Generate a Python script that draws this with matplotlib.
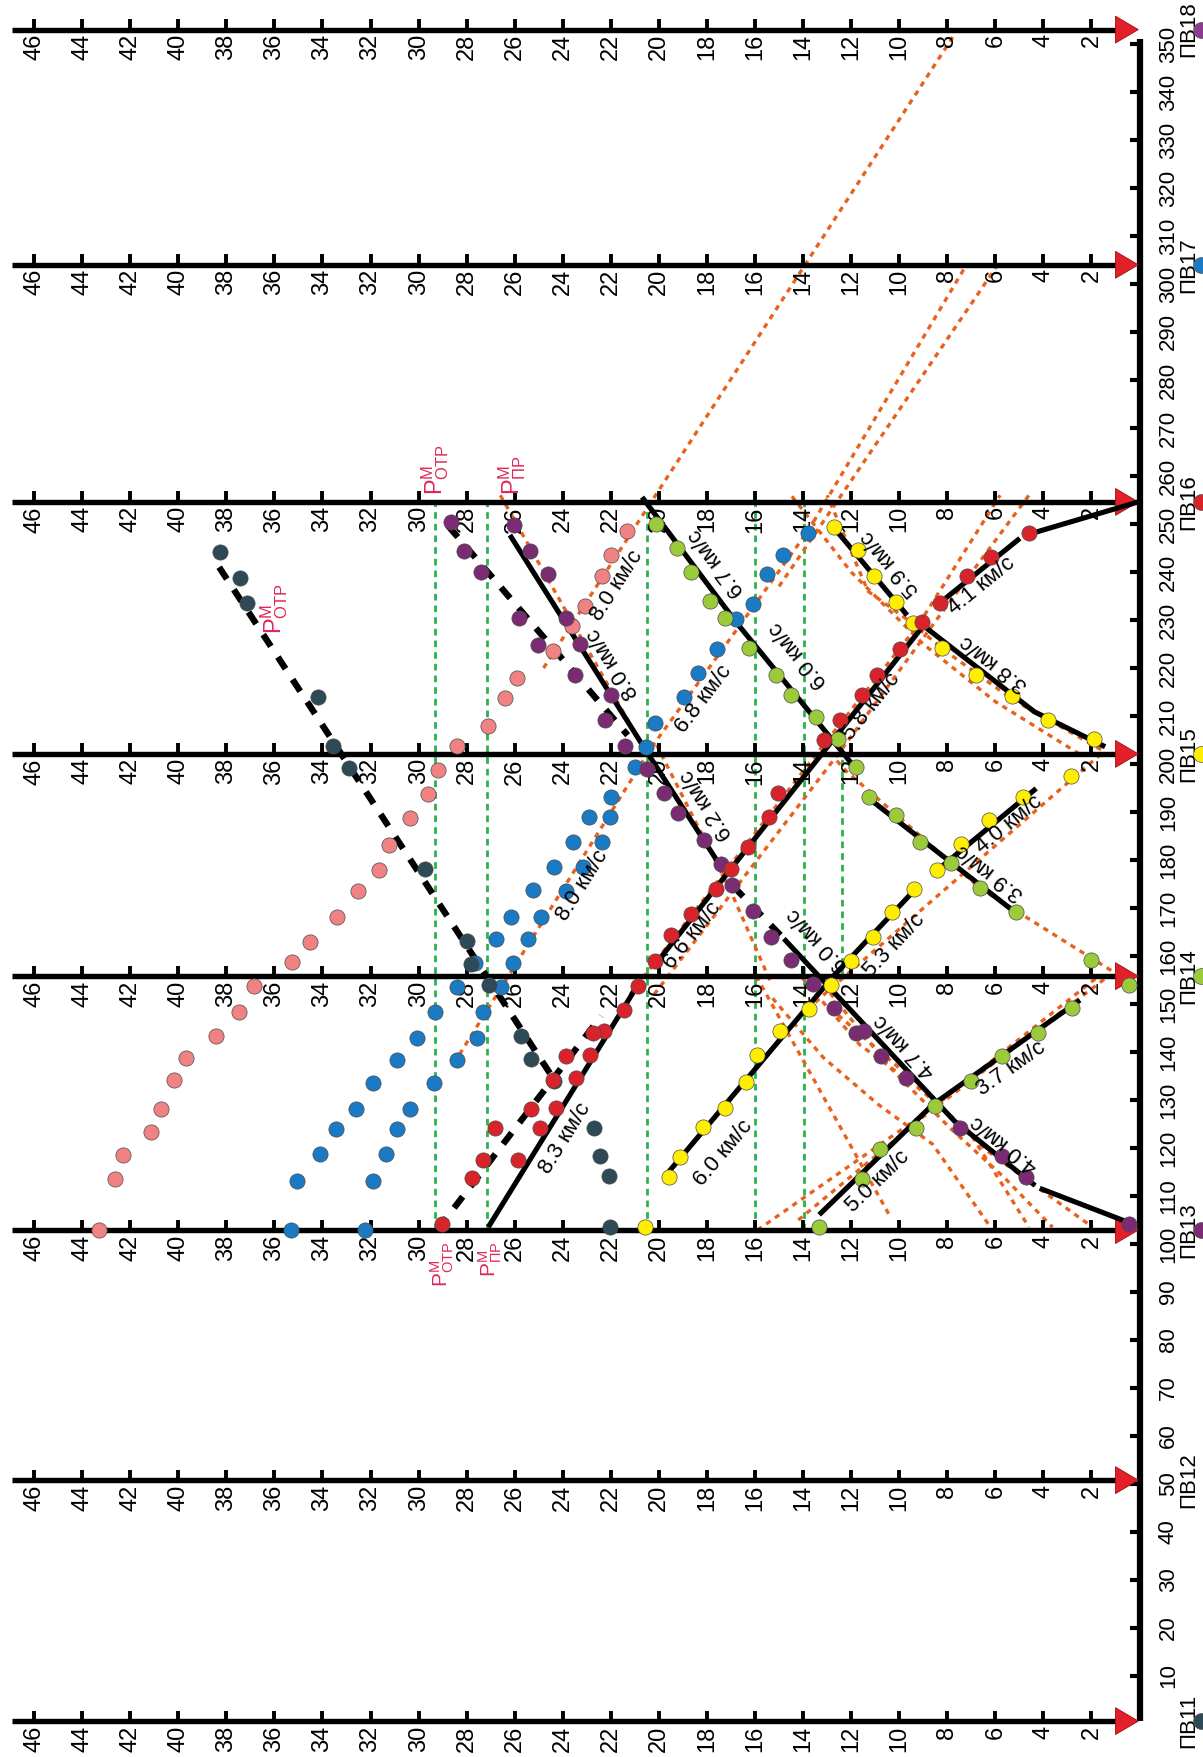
import matplotlib.pyplot as plt
from matplotlib.patches import Polygon

plt.rcParams['font.family'] = ['Liberation Sans', 'DejaVu Sans']

# shot points: name, distance (km), marker colour
sp_names = ['ПВ11', 'ПВ12', 'ПВ13', 'ПВ14', 'ПВ15', 'ПВ16', 'ПВ17', 'ПВ18']
sp_dist = [0.6, 50.8, 102.9, 155.8, 202.1, 254.6, 304.0, 353.0]
sp_colors = ['#2e4a56', None, '#7b2b72', '#9bcb3b', '#ffee00', '#d9232a', '#1a7bc4', '#8a3d8e']

time_ticks = list(range(2, 47, 2))
dist_ticks = list(range(10, 351, 10))

# observed arrivals (t, d) by colour
pts_dark = [(38.28, 244.2), (37.44, 238.7), (37.14, 233.5), (34.17, 214.0), (33.55, 203.8),
            (32.89, 199.1), (29.73, 178.2), (27.99, 163.1), (27.84, 158.4), (27.06, 153.9),
            (25.73, 143.4), (25.31, 138.6), (24.38, 133.9), (22.71, 124.2), (22.45, 118.3),
            (22.08, 114.2), (22.05, 103.5)]
pts_purple = [(28.67, 250.5), (28.1, 244.4), (27.4, 240.0), (25.84, 230.5), (25.05, 224.7),
              (23.5, 218.6), (22.23, 209.1),
              (26.03, 249.8), (25.35, 244.4), (24.6, 239.5), (23.85, 230.5), (23.3, 224.9),
              (22.0, 214.4), (21.4, 203.8), (20.49, 199.0), (19.78, 193.9), (19.2, 189.7),
              (18.14, 184.1), (17.42, 179.1), (16.96, 174.7), (16.1, 169.4), (15.34, 163.9),
              (14.51, 159.1), (13.57, 154.2), (12.7, 149.1), (11.79, 143.9), (11.46, 144.3),
              (10.76, 139.1), (9.7, 134.6), (7.48, 124.2), (5.74, 118.3), (4.71, 114.0),
              (0.44, 104.2)]
pts_green = [(20.1, 250.0), (19.23, 245.0), (18.67, 240.0), (17.87, 234.0), (17.23, 230.5),
             (16.25, 224.2), (15.12, 218.6), (14.51, 214.4), (13.45, 209.8), (12.54, 205.2),
             (11.79, 199.3), (11.26, 193.2), (10.12, 189.4), (9.14, 183.7), (7.86, 179.3),
             (6.64, 174.1), (5.13, 169.2), (2.03, 159.1), (0.44, 153.9),
             (13.33, 103.5), (11.56, 113.5), (10.8, 119.7), (9.29, 124.2), (8.49, 128.7),
             (7.02, 133.9), (5.74, 139.1), (4.22, 143.9), (2.82, 149.1)]
pts_yellow = [(12.73, 249.3), (11.71, 244.6), (11.03, 239.2), (10.12, 233.7), (9.44, 229.4),
              (8.23, 224.2), (6.8, 218.6), (5.31, 214.2), (3.8, 209.1), (1.88, 205.2),
              (2.86, 197.6), (4.83, 193.2), (6.27, 188.3), (7.43, 183.3), (8.43, 177.9),
              (9.4, 174.0), (10.31, 169.2), (11.11, 163.9), (12.02, 158.9), (12.85, 153.9),
              (13.76, 148.9), (14.96, 144.3), (15.92, 139.4), (16.37, 133.7), (17.26, 128.3),
              (18.17, 124.3), (19.13, 118.1), (19.58, 114.0), (20.56, 103.5)]
pts_red = [(4.6, 248.1), (6.19, 243.2), (7.17, 239.2), (8.31, 233.5), (9.07, 229.5),
           (9.97, 223.9), (10.91, 218.6), (11.56, 214.4), (12.47, 209.1), (13.15, 204.9),
           (15.04, 193.9), (15.42, 189.0), (16.3, 182.8), (17.0, 178.2), (17.61, 173.9),
           (18.67, 168.8), (19.5, 164.3), (20.18, 158.9), (20.87, 153.7), (21.47, 148.7),
           (22.3, 144.3), (22.76, 143.9), (22.86, 139.4), (23.44, 134.6), (23.85, 139.1),
           (24.42, 134.2), (24.3, 128.4), (24.95, 124.1), (25.31, 128.2), (25.85, 117.6),
           (26.82, 124.1), (27.31, 117.6), (27.77, 113.8), (29.02, 104.1)]
pts_blue = [(13.79, 248.1), (14.84, 243.6), (15.49, 239.6), (16.1, 233.3), (16.78, 230.2),
            (17.57, 223.9), (18.37, 219.0), (18.97, 214.0), (20.15, 208.6), (20.53, 203.6),
            (21.0, 199.3), (22.0, 193.2), (22.9, 189.0), (22.05, 189.0), (23.59, 183.8),
            (22.38, 183.8), (23.16, 178.6), (24.38, 178.6), (23.85, 173.6), (25.25, 173.7),
            (24.9, 168.1), (26.14, 168.1), (25.46, 163.6), (26.76, 163.6), (26.06, 158.6),
            (27.66, 158.6), (26.56, 153.5), (28.41, 153.5),
            (29.3, 148.4), (30.06, 143.0), (30.9, 138.4), (31.91, 133.5), (32.59, 128.2),
            (33.45, 123.9), (34.1, 118.8), (35.07, 113.1), (35.3, 103.0),
            (27.34, 148.4), (27.57, 143.0), (28.4, 138.4), (29.35, 133.5), (30.36, 128.2),
            (30.9, 123.9), (31.35, 118.8), (31.91, 113.1), (32.24, 103.0)]
pts_pink = [(21.32, 248.6), (22.0, 243.5), (22.35, 239.2), (23.06, 233.0), (23.6, 228.8),
            (24.4, 223.6), (25.9, 218.0), (26.4, 213.7), (27.1, 208.0), (28.4, 203.7),
            (29.2, 198.7), (29.6, 193.7), (30.36, 188.7), (31.23, 183.1), (31.65, 177.9),
            (32.51, 173.5), (33.39, 168.1), (34.52, 162.9), (35.26, 158.7), (36.84, 153.7),
            (37.49, 148.4), (38.42, 143.4), (39.67, 138.7), (40.17, 134.1), (40.7, 128.2),
            (41.15, 123.4), (42.31, 118.5), (42.64, 113.5), (43.29, 103.0)]

# interpreted travel-time curves
black_solid = [
    [(27.1, 103.5), (20.75, 155.0)],
    [(26.2, 247.7), (20.5, 202.5), (17.6, 180.0)],
    [(20.7, 255.6), (16.78, 229.5), (11.8, 199.0)],
    [(12.73, 249.3), (9.67, 231.0)],
    [(0.05, 254.6), (4.45, 248.1)],
    [(4.98, 247.0), (8.3, 233.6)],
    [(9.0, 228.8), (20.0, 159.2)],
    [(8.99, 228.8), (4.38, 210.9), (1.43, 203.6)],
    [(8.46, 177.7), (4.3, 194.9)],
    [(11.18, 192.5), (5.28, 169.5)],
    [(19.58, 115.1), (12.74, 155.8), (9.37, 173.7)],
    [(14.8, 163.6), (7.7, 125.6), (4.35, 112.2)],
    [(4.15, 111.6), (0.2, 104.0)],
    [(13.33, 106.1), (8.61, 129.0), (2.48, 150.8)],
]
black_dashed = [
    [(38.3, 241.0), (24.2, 133.0)],
    [(28.75, 249.5), (21.3, 206.0)],
    [(29.2, 103.1), (22.4, 147.5)],
    [(16.9, 174.5), (14.8, 163.6)],
]
orange_lines = [
    [(24.8, 220.0), (7.7, 352.0)],
    [(28.3, 139.5), (20.3, 203.5), (13.8, 248.5), (7.2, 304.0)],
    [(15.0, 237.0), (12.6, 254.6), (5.9, 304.0)],
    [(26.6, 256.0), (20.6, 203.0)],
    [(21.2, 152.0), (13.3, 203.0), (9.2, 229.0), (5.8, 256.0)],
    [(20.2, 152.0), (12.4, 203.0), (8.6, 229.0), (4.6, 256.0)],
    [(1.6, 203.0), (5.3, 213.5), (8.2, 224.0), (9.5, 229.5), (11.3, 236.0), (13.0, 256.0)],
    [(2.5, 202.1), (6.0, 213.0), (9.0, 225.0), (12.0, 240.0), (14.5, 256.0)],
    [(1.6, 202.1), (12.9, 153.0), (14.0, 148.0)],
    [(0.8, 155.8), (6.6, 174.0), (12.2, 198.5), (13.2, 204.0)],
    [(20.1, 204.0), (17.0, 173.4), (15.3, 154.0)],
    [(15.9, 102.9), (8.6, 128.4), (1.7, 155.8)],
    [(14.2, 105.0), (9.0, 126.5), (1.3, 155.8)],
    [(15.95, 155.8), (10.43, 106.2)],
    [(15.27, 151.2), (13.15, 138.8), (10.88, 129.1), (8.61, 120.8), (6.2, 103.5)],
    [(14.06, 155.6), (11.64, 141.5), (9.37, 133.2), (7.1, 123.5), (4.6, 103.5)],
    [(13.15, 154.0), (10.43, 137.0), (7.85, 124.0), (5.66, 114.0), (3.62, 103.5)],
    [(12.54, 147.7), (9.37, 133.9), (6.34, 119.4), (1.95, 103.5)],
]
green_t = [29.3, 27.15, 20.5, 16.0, 13.95, 12.4]
green_from = [102.9, 102.9, 102.9, 102.9, 102.9, 155.8]
green_to = [254.6, 254.6, 254.6, 254.6, 254.6, 202.1]

vel_labels = [
    ('8.3 км/с', 23.9, 122.0, 58.3), ('6.0 км/с', 17.3, 119.0, 50.0),
    ('5.0 км/с', 10.88, 113.1, 44.0), ('3.7 км/с', 5.36, 136.6, 35.4),
    ('4.0 км/с', 5.6, 120.9, 141.6), ('4.7 км/с', 9.75, 141.3, 133.1),
    ('6.0 км/с', 13.4, 163.4, 133.1), ('5.3 км/с', 10.2, 162.2, 46.7),
    ('6.6 км/с', 18.6, 164.2, 51.6), ('6.2 км/с', 18.0, 191.5, 122.8),
    ('4.0 км/с', 5.43, 187.3, 39.6), ('3.9 км/с', 6.19, 177.5, 142.2),
    ('8.0 км/с', 23.18, 174.8, 58.0), ('6.8 км/с', 18.14, 213.6, 52.8),
    ('8.0 км/с', 21.77, 237.2, 57.3), ('8.0 км/с', 21.92, 221.0, 122.3),
    ('6.7 км/с', 17.6, 242.0, 127.0), ('6.0 км/с', 14.2, 222.8, 129.3),
    ('5.8 км/с', 11.18, 211.9, 51.6), ('5.9 км/с', 10.35, 241.8, 130.0),
    ('4.1 км/с', 6.57, 237.2, 38.9), ('3.8 км/с', 6.04, 221.0, 142.2),
]
wave_labels = [
    (r'$\mathregular{P^{M}_{ОТР}}$', 29.0, 100.6, 'top', 15),
    (r'$\mathregular{P^{M}_{ПР}}$', 27.0, 100.6, 'top', 15),
    (r'$\mathregular{P^{M}_{ОТР}}$', 29.3, 256.0, 'bottom', 17),
    (r'$\mathregular{P^{M}_{ПР}}$', 26.1, 256.0, 'bottom', 17),
    (r'$\mathregular{P^{M}_{ОТР}}$', 36.0, 232.5, 'center', 17),
]

W, H = 1203, 1757
fig = plt.figure(figsize=(W / 100, H / 100), dpi=100)
ax = fig.add_axes([0, 0, 1, 1])
# pixel geometry of the reference: t=0 at x=1139.5, 24.03 px/s; d=0 at y=1724, 4.8 px/km
ax.set_xlim(1139.5 / 24.03, (1139.5 - W) / 24.03)
ax.set_ylim((1724 - H) / 4.8, 1724 / 4.8)
ax.axis('off')

# green vertical guides
for t, d0, d1 in zip(green_t, green_from, green_to):
    ax.plot([t, t], [d0, d1], color='#2bb24c', lw=2.0, ls=(0, (2.4, 1.8)), zorder=2)

# orange model curves
for ln in orange_lines:
    ax.plot([p[0] for p in ln], [p[1] for p in ln], color='#e8621e', lw=2.4,
            ls=(0, (1.6, 1.6)), zorder=3)

# shot-point time axes
for name, d, c in zip(sp_names, sp_dist, sp_colors):
    ax.plot([46.9, 0.5], [d, d], color='black', lw=3.9, solid_capstyle='butt', zorder=5)
    for t in time_ticks:
        ax.plot([t, t], [d, d + 2.2], color='black', lw=2.8, solid_capstyle='butt', zorder=5)
        ax.text(t, d - 0.9, str(t), rotation=90, ha='center', va='top', fontsize=17, zorder=6)
    ax.add_patch(Polygon([(0.05, d), (1.0, d + 2.8), (1.0, d - 2.8)], closed=True,
                         facecolor='#e3202a', edgecolor='#9a1010', lw=0.6, zorder=7))
    ax.text(-2.05, d, name, rotation=90, ha='center', va='center', fontsize=16)
    if c is not None:
        ax.scatter([-2.55], [d], s=130, color=c, edgecolors='#555555', linewidths=0.5,
                   zorder=8, clip_on=False)

# distance axis
ax.plot([0, 0], [0.6, 351], color='black', lw=4.5, solid_capstyle='butt', zorder=6)
for d in dist_ticks:
    ax.plot([0, 0.4], [d, d], color='black', lw=3, solid_capstyle='butt', zorder=6)
    ax.text(-1.2, d, str(d), rotation=90, ha='center', va='center', fontsize=16)

# interpreted lines
for ln in black_solid:
    ax.plot([p[0] for p in ln], [p[1] for p in ln], color='black', lw=3.7,
            solid_capstyle='butt', zorder=9)
for ln in black_dashed:
    ax.plot([p[0] for p in ln], [p[1] for p in ln], color='black', lw=4.6,
            ls=(0, (2.2, 2.0)), zorder=9)

# data points
for pts, c in [(pts_pink, '#f08284'), (pts_blue, '#1a7bc4'), (pts_dark, '#2e4a56'),
               (pts_purple, '#7b2b72'), (pts_green, '#9bcb3b'), (pts_yellow, '#ffee00'),
               (pts_red, '#d9232a')]:
    ax.scatter([p[0] for p in pts], [p[1] for p in pts], s=120, color=c,
               edgecolors='#4a4a4a', linewidths=0.5, zorder=10)

for txt, t, d, ang in vel_labels:
    ax.text(t, d, txt, rotation=ang, rotation_mode='anchor', ha='center', va='center',
            fontsize=16, zorder=11)
for txt, t, d, va, fs in wave_labels:
    ax.text(t, d, txt, rotation=90, ha='center', va=va, fontsize=fs, color='#e0285a',
            zorder=11)

fig.savefig('out.png', dpi=100)
